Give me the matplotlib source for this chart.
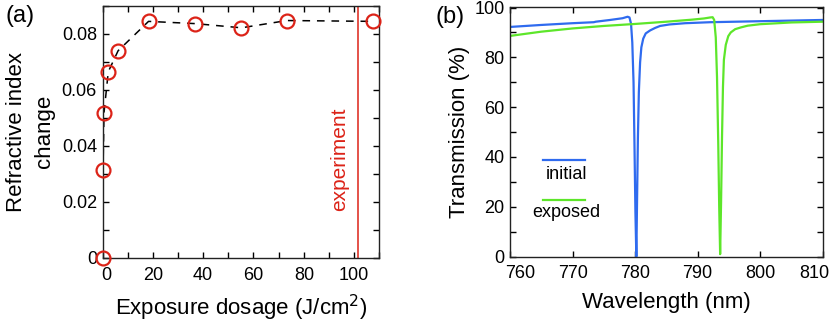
import matplotlib
matplotlib.use("Agg")
import matplotlib.pyplot as plt
from matplotlib.ticker import MultipleLocator
from matplotlib.transforms import ScaledTranslation

plt.rcParams['font.family'] = ['Liberation Sans', 'DejaVu Sans']

# (a) refractive index change vs exposure dosage
dose = [0, 0.2, 0.6, 2.3, 6.2, 18.3, 36.8, 55.2, 73.3, 107.6]
dn   = [0, 0.0312, 0.0519, 0.0665, 0.0740, 0.0845, 0.0837, 0.0822, 0.0848, 0.0845]
dose_experiment = 101.6

# (b) transmission spectra
wl_init = [760, 765, 770, 773.4, 773.7, 776, 778, 778.8, 779.1, 779.35, 779.55,
           779.75, 779.9, 780.05, 780.2, 780.3, 780.45, 780.6, 780.8, 781.0,
           781.3, 781.7, 782.4, 783.2, 784, 785.5, 788, 792, 800, 810]
T_init  = [92.2, 93.0, 93.7, 94.1, 94.3, 95.0, 95.7, 96.3, 96.0, 93.5, 86,
           70, 45, 18, 0, 20, 48, 66, 78, 84,
           87.5, 89.6, 90.8, 91.8, 92.6, 93.2, 93.7, 94.1, 94.5, 95.0]

wl_exp = [760, 765, 770, 775, 780, 785, 789, 791, 792.0, 792.4, 792.65, 792.9,
          793.1, 793.3, 793.45, 793.6, 793.75, 793.9, 794.05, 794.2, 794.5,
          794.9, 795.3, 796, 796.9, 798, 800, 805, 810]
T_exp  = [88.6, 90.3, 91.6, 92.6, 93.4, 94.3, 95.1, 95.6, 96.0, 96.1, 95.0, 88,
          72, 45, 20, 1, 22, 48, 68, 79, 85,
          88.5, 90.0, 91.3, 92.0, 92.7, 93.3, 94.0, 94.3]

red = '#dc2318'
blue = '#2f6bef'
green = '#5de62a'

fig = plt.figure(figsize=(8.3, 3.22), dpi=100)
ax1 = fig.add_axes([0.1235, 0.1997, 0.3335, 0.7817])
ax2 = fig.add_axes([0.6145, 0.2030, 0.3767, 0.7760])

ax1.plot(dose, dn, color='k', lw=1.1, dashes=(5, 4.5), zorder=2)
ax1.plot(dose, dn, ls='none', marker='o', ms=10, mfc='none', mec=red,
         mew=1.6, clip_on=False, zorder=3)
ax1.axvline(dose_experiment, color=red, lw=1.1)
ax1.text(94.4, 0.0351, 'experiment', color=red, fontsize=15, rotation=90,
         ha='center', va='center')
ax1.set_xlim(0, 110)
ax1.set_ylim(0, 0.09)
ax1.xaxis.set_major_locator(MultipleLocator(20))
ax1.xaxis.set_minor_locator(MultipleLocator(10))
ax1.yaxis.set_major_locator(MultipleLocator(0.02))
ax1.yaxis.set_minor_locator(MultipleLocator(0.01))
ax1.yaxis.set_major_formatter(plt.FuncFormatter(lambda v, p: '0' if v == 0 else f'{v:.2f}'))
ax1.set_xlabel('Exposure dosage (J/cm$^2$)', fontsize=16, labelpad=6)
ax1.set_ylabel('Refractive index\nchange', fontsize=16, labelpad=5, linespacing=1.45)
ax1.text(-0.352, 0.96, '(a)', transform=ax1.transAxes, fontsize=17, va='center')

ax2.plot(wl_init, T_init, color=blue, lw=1.6)
ax2.plot(wl_exp, T_exp, color=green, lw=1.6)
ax2.set_xlim(760, 810)
ax2.set_ylim(0, 100.3)
ax2.xaxis.set_major_locator(MultipleLocator(10))
ax2.yaxis.set_major_locator(MultipleLocator(20))
ax2.yaxis.set_minor_locator(MultipleLocator(10))
ax2.set_xlabel('Wavelength (nm)', fontsize=16, labelpad=7)
ax2.set_ylabel('Transmission (%)', fontsize=16, labelpad=3)
ax2.text(-0.237, 0.96, '(b)', transform=ax2.transAxes, fontsize=17, va='center')

# hand-made legend: line above its label
ax2.plot([0.106, 0.240], [0.387, 0.387], color=blue, lw=1.6, transform=ax2.transAxes)
ax2.text(0.18, 0.33, 'initial', transform=ax2.transAxes, fontsize=13,
         ha='center', va='center')
ax2.plot([0.106, 0.240], [0.226, 0.226], color=green, lw=1.6, transform=ax2.transAxes)
ax2.text(0.18, 0.177, 'exposed', transform=ax2.transAxes, fontsize=13,
         ha='center', va='center')

for ax in (ax1, ax2):
    ax.tick_params(which='both', direction='in', top=True, right=True,
                   length=4, width=1, labelsize=13)
    ax.tick_params(axis='y', which='both', pad=4)
    for s in ax.spines.values():
        s.set_linewidth(1.0)
        s.set_color('#222222')
ax1.tick_params(axis='x', which='both', pad=7)
ax2.tick_params(axis='x', which='both', pad=6)

# end tick labels sit inside the axis span in the original figure
fig.canvas.draw()
shifts = {(ax1, '0'): 3.5, (ax2, '760'): 10, (ax2, '810'): -8}
for (ax, txt), dx in shifts.items():
    for lab in ax.get_xticklabels():
        if lab.get_text() == txt:
            lab.set_transform(lab.get_transform()
                              + ScaledTranslation(dx / 100, 0, fig.dpi_scale_trans))

fig.savefig('out.png', dpi=100)
